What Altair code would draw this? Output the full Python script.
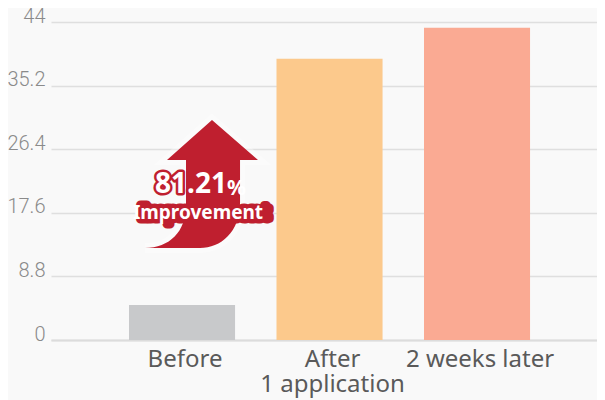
import altair as alt
import pandas as pd

categories = ["Before", "After\n1 application", "2 weeks later"]
values = [4.84, 38.9, 43.2]
colors = ["#c8c9cb", "#fcc98c", "#faaa93"]
ticks = [0, 8.8, 17.6, 26.4, 35.2, 44]
pct_text = "81.21"
unit_text = "%"
note_text = "Improvement"

FONT = "Noto Sans"
RED = "#bf1f2f"
ARROW = ("M0.164 -1 L0.883 -0.375 L0.602 -0.375 L0.602 0.297 "
         "C0.602 0.75 0.3 1 -0.023 1 L-0.883 1 "
         "C-0.5 1 -0.242 0.75 -0.242 0.33 L-0.242 -0.375 L-0.539 -0.375 Z")

df = pd.DataFrame({"cat": categories, "val": values})

W = 546
STEP = 147.5
FREE = W - STEP * 2.719
x = alt.X("cat:N", sort=categories, title=None,
          scale=alt.Scale(domain=categories, paddingInner=0.281, paddingOuter=FREE / STEP / 2, align=78 / FREE),
          axis=alt.Axis(labelAngle=0, labelFontSize=24, labelColor="#5a5a5a", labelFont=FONT,
                        labelLineHeight=25, labelPadding=7, labelOffset=3, ticks=False,
                        domainColor="#dcdcdc", domainWidth=2, grid=False,
                        labelExpr="split(datum.label, '\\n')"))
y = alt.Y("val:Q", title=None,
          scale=alt.Scale(domain=[0, 44], nice=False),
          axis=alt.Axis(values=ticks, labelFontSize=20, labelColor="#8a8a8a", labelFont="Roboto",
                        labelFontWeight=300, labelOffset=-6, labelPadding=6, ticks=False, domain=False,
                        gridColor="#dfdfdf", gridWidth=1.5, labelExpr="datum.value"))

bars = alt.Chart(df).mark_bar(opacity=1).encode(
    x=x, y=y,
    color=alt.Color("cat:N", scale=alt.Scale(domain=categories, range=colors), legend=None),
)

one = alt.Chart(pd.DataFrame({"k": [0]}))

def arrow(fill, stroke, width, opacity):
    return one.mark_point(shape=ARROW, filled=True, fill=fill, stroke=stroke, strokeWidth=width,
                          opacity=opacity, size=16384).encode(
        x=alt.value(150.5), y=alt.value(162))

def label(text, px, py, size, fill, stroke=None, sw=0, align="center"):
    kw = dict(stroke=stroke, strokeWidth=sw, strokeJoin="round") if stroke else {}
    return one.mark_text(text=text, font=FONT, fontWeight="bold", fontSize=size,
                         fill=fill, align=align, baseline="middle", **kw).encode(
        x=alt.value(px), y=alt.value(py))

chart = alt.layer(
    bars,
    arrow("#ffffff", "#ffffff", 10, 0.35),
    arrow(RED, RED, 0, 1),
    label(note_text, 154, 191, 19, RED, RED, 9),
    label(pct_text, 104, 163, 28, RED, RED, 5, "left"),
    label(note_text, 147, 191, 19, "#ffffff"),
    label(pct_text, 104, 163, 28, "#ffffff", align="left"),
    label(unit_text, 176, 167, 21, "#ffffff", align="left"),
).resolve_scale(color="independent").properties(
    width=W, height=318,
    background="#f9f9f9",
    padding={"left": 43, "top": 14, "right": 0, "bottom": 60},
    autosize=alt.AutoSizeParams(type="none"),
).configure_view(stroke=None)

chart.save("out.html", embed_options={"renderer": "svg", "actions": False})
